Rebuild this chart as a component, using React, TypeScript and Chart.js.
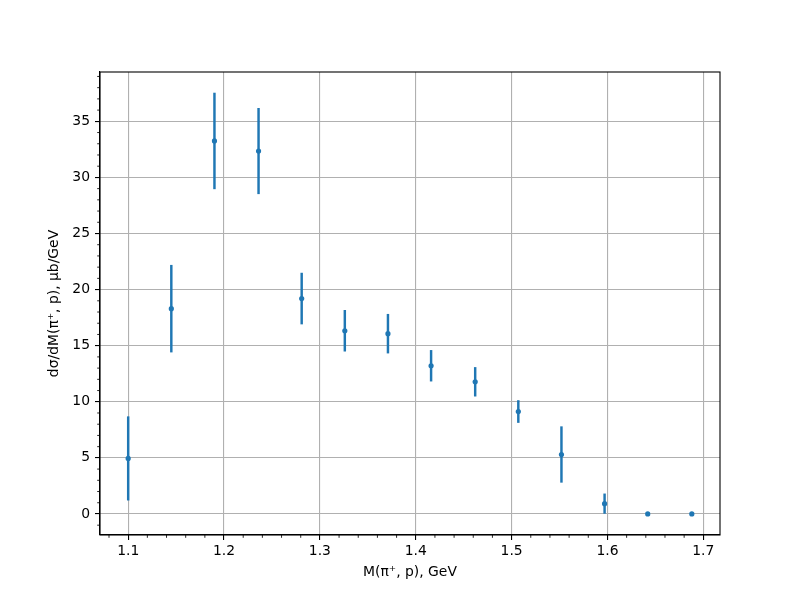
import { useEffect, useRef } from 'react';
import { Chart, registerables } from 'chart.js';

Chart.register(...registerables);

// ---- data ----
const massGeV = [1.1, 1.145, 1.19, 1.236, 1.281, 1.326, 1.371, 1.416, 1.462, 1.507, 1.552, 1.597, 1.642, 1.688];
const crossSection = [4.95, 18.3, 33.25, 32.35, 19.2, 16.33, 16.07, 13.21, 11.78, 9.13, 5.3, 0.92, 0.0, 0.0];
const crossSectionErr = [3.72, 3.87, 4.27, 3.81, 2.27, 1.82, 1.73, 1.37, 1.28, 0.98, 2.48, 0.87, 0.0, 0.0];

const xTickValues = [1.1, 1.2, 1.3, 1.4, 1.5, 1.6, 1.7];
const yTickValues = [0, 5, 10, 15, 20, 25, 30, 35];
const xMinorStep = 0.02;
const yMinorStep = 1;

const xTitle = 'M(π⁺, p), GeV';
const yTitle = 'dσ/dM(π⁺, p), μb/GeV';

const BLUE = '#1f77b4';
const FONT = "'DejaVu Sans', sans-serif";

function paddedRange(lo: number, hi: number) {
  const m = (hi - lo) * 0.05;
  return [lo - m, hi + m];
}

const minorTicksPlugin = {
  id: 'minorTicksAndFrame',
  afterDraw(chart: any) {
    const { ctx, chartArea } = chart;
    const xs = chart.scales.x;
    const ys = chart.scales.y;
    ctx.save();
    ctx.strokeStyle = '#000';
    ctx.lineWidth = 0.85;
    // x minor
    const kx0 = Math.ceil(xs.min / xMinorStep - 1e-9);
    const kx1 = Math.floor(xs.max / xMinorStep + 1e-9);
    for (let k = kx0; k <= kx1; k++) {
      if (k % 5 === 0) continue;
      const px = xs.getPixelForValue(k * xMinorStep);
      ctx.beginPath();
      ctx.moveTo(px, chartArea.bottom);
      ctx.lineTo(px, chartArea.bottom + 2.8);
      ctx.stroke();
    }
    // y minor
    const ky0 = Math.ceil(ys.min / yMinorStep - 1e-9);
    const ky1 = Math.floor(ys.max / yMinorStep + 1e-9);
    for (let k = ky0; k <= ky1; k++) {
      if (k % 5 === 0) continue;
      const py = ys.getPixelForValue(k * yMinorStep);
      ctx.beginPath();
      ctx.moveTo(chartArea.left, py);
      ctx.lineTo(chartArea.left - 2.8, py);
      ctx.stroke();
    }
    // frame
    ctx.lineWidth = 1.1;
    ctx.strokeRect(chartArea.left, chartArea.top, chartArea.right - chartArea.left, chartArea.bottom - chartArea.top);
    ctx.restore();
  },
};

export default function App() {
  const canvasRef = useRef<HTMLCanvasElement | null>(null);

  useEffect(() => {
    const canvas = canvasRef.current;
    if (!canvas) return;

    const [xMin, xMax] = paddedRange(Math.min(...massGeV), Math.max(...massGeV));
    const lows = crossSection.map((v, i) => v - crossSectionErr[i]);
    const highs = crossSection.map((v, i) => v + crossSectionErr[i]);
    const [yMin, yMax] = paddedRange(Math.min(...lows), Math.max(...highs));

    const chart = new Chart(canvas, {
      type: 'scatter',
      data: {
        datasets: [
          {
            type: 'scatter',
            label: 'data',
            data: massGeV.map((x, i) => ({ x, y: crossSection[i] })),
            backgroundColor: BLUE,
            borderColor: BLUE,
            pointRadius: 2.6,
            borderWidth: 0,
          } as any,
          {
            type: 'bar',
            label: 'errors',
            data: massGeV.map((x, i) => ({ x, y: [lows[i], highs[i]] })),
            backgroundColor: BLUE,
            borderWidth: 0,
            barThickness: 1.8,
            grouped: false,
          } as any,
        ],
      },
      options: {
        animation: false,
        responsive: false,
        maintainAspectRatio: false,
        layout: { padding: { left: 0, top: 72, right: 80, bottom: 0 } },
        plugins: {
          legend: { display: false },
          tooltip: { enabled: false },
        },
        scales: {
          x: {
            type: 'linear',
            position: 'bottom',
            min: xMin,
            max: xMax,
            offset: false,
            afterBuildTicks: (scale: any) => {
              scale.ticks = xTickValues.map((v) => ({ value: v }));
            },
            afterFit: (scale: any) => {
              scale.height = 65;
            },
            ticks: {
              color: '#000',
              font: { family: FONT, size: 13.9 },
              padding: 3,
              maxRotation: 0,
              autoSkip: false,
              callback: (v: any) => Number(v).toFixed(1),
            },
            grid: {
              offset: false,
              color: '#b0b0b0',
              lineWidth: 1.1,
              tickColor: '#000',
              tickLength: 5,
              tickWidth: 1.1,
            },
            border: { display: true, color: '#000', width: 1.1 },
            title: {
              display: true,
              text: xTitle,
              color: '#000',
              font: { family: FONT, size: 13.9 },
              padding: { top: 0, bottom: 19 },
            },
          },
          y: {
            type: 'linear',
            position: 'left',
            min: yMin,
            max: yMax,
            afterBuildTicks: (scale: any) => {
              scale.ticks = yTickValues.map((v) => ({ value: v }));
            },
            afterFit: (scale: any) => {
              scale.width = 100;
            },
            ticks: {
              color: '#000',
              font: { family: FONT, size: 13.9 },
              padding: 5,
              autoSkip: false,
              callback: (v: any) => String(Math.round(Number(v))),
            },
            grid: {
              offset: false,
              color: '#b0b0b0',
              lineWidth: 1.1,
              tickColor: '#000',
              tickLength: 5,
              tickWidth: 1.1,
            },
            border: { display: true, color: '#000', width: 1.1 },
            title: {
              display: true,
              text: yTitle,
              color: '#000',
              font: { family: FONT, size: 13.9 },
              padding: { top: 46, bottom: 0 },
            },
          },
        },
      },
      plugins: [minorTicksPlugin],
    } as any);

    return () => chart.destroy();
  }, []);

  return (
    <div style={{ position: 'absolute', left: 0, top: 0, width: 800, height: 600, background: '#fff' }}>
      <canvas ref={canvasRef} width={800} height={600} style={{ width: 800, height: 600 }} />
    </div>
  );
}
